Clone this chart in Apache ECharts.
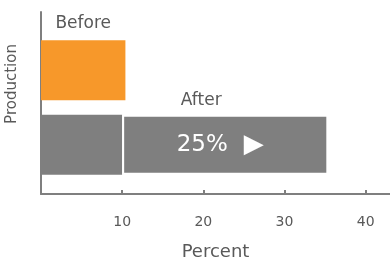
<!DOCTYPE html>
<html lang="en">
<head>
  <meta charset="UTF-8">
  <title>Production</title>
  <script src="https://cdn.jsdelivr.net/npm/echarts@6/dist/echarts.min.js"></script>
  <style>
    body { margin: 0; }
    #main { width: 390px; height: 259px; }
  </style>
</head>
<body>
  <div id="main"></div>
  <script>
  // bars, bottom to top
  const categories = ['After', 'Before'];
  const baseValues = [10, 10.4];
  const gainValues = [25.4, '-'];
  const gainLabel = '25%';
  const xTicks = [10, 20, 30, 40];

  const font = 'DejaVu Sans';
  const gray = '#7f7f7f';
  const orange = '#f7982a';
  const textColor = '#595959';

  const chart = echarts.init(document.getElementById('main'));

  chart.setOption({
    animation: false,
    textStyle: { fontFamily: font },
    grid: [
      { left: 41, right: 0, top: 12, bottom: 65, outerBoundsMode: 'none' },
      { left: 41, right: 0, top: 33, bottom: 77, outerBoundsMode: 'none' }
    ],
    xAxis: [
      {
        gridIndex: 0, type: 'value', min: 0, max: 43,
        name: 'Percent', nameLocation: 'middle', nameGap: 49,
        nameTextStyle: { color: textColor, fontSize: 18, fontFamily: font },
        axisLine: { show: true, onZero: false, lineStyle: { color: gray, width: 2 } },
        axisTick: { show: true, inside: true, length: 4, customValues: xTicks, lineStyle: { color: gray, width: 2 } },
        axisLabel: { color: textColor, fontSize: 14, margin: 21, fontFamily: font, customValues: xTicks },
        splitLine: { show: false }
      },
      {
        gridIndex: 1, type: 'value', min: 0, max: 43, show: false
      }
    ],
    yAxis: [
      {
        gridIndex: 0, type: 'category', data: [''],
        name: 'Production', nameLocation: 'middle', nameGap: 21,
        nameTextStyle: { color: textColor, fontSize: 15, fontFamily: font, padding: [0, 0, 0, 38] },
        axisLine: { show: true, onZero: false, lineStyle: { color: gray, width: 2 } },
        axisTick: { show: false },
        axisLabel: { show: false }
      },
      {
        gridIndex: 1, type: 'category', data: categories, show: false
      }
    ],
    series: [
      {
        type: 'bar', xAxisIndex: 1, yAxisIndex: 1, stack: 'p', barWidth: 60,
        data: baseValues.map((v, i) => ({
          value: v,
          itemStyle: { color: categories[i] === 'Before' ? orange : gray },
          label: categories[i] === 'Before'
            ? { show: true, position: 'top', distance: 8, formatter: 'Before',
                color: textColor, fontSize: 17, fontFamily: font }
            : { show: false }
        }))
      },
      {
        type: 'bar', xAxisIndex: 1, yAxisIndex: 1, stack: 'p', barWidth: 60,
        itemStyle: { color: gray, borderColor: '#fff', borderWidth: 2 },
        data: gainValues,
        label: {
          show: true, position: 'inside', offset: [-5, 0],
          formatter: gainLabel + '{g|}{t|\u25B6\uFE0E}',
          color: '#fff', fontSize: 23, fontFamily: font,
          rich: {
            g: { width: 16 },
            t: { color: '#fff', fontSize: 26, fontFamily: font }
          }
        },
        markPoint: {
          symbol: 'rect', symbolSize: 1,
          itemStyle: { color: 'rgba(0,0,0,0)' },
          label: {
            show: true, formatter: 'After', color: textColor,
            fontSize: 17, fontFamily: font, position: 'inside'
          },
          data: [{ coord: [baseValues[0] + gainValues[0] / 2, 'After'], symbolOffset: [-24, -44] }]
        }
      }
    ]
  });
  </script>
</body>
</html>
